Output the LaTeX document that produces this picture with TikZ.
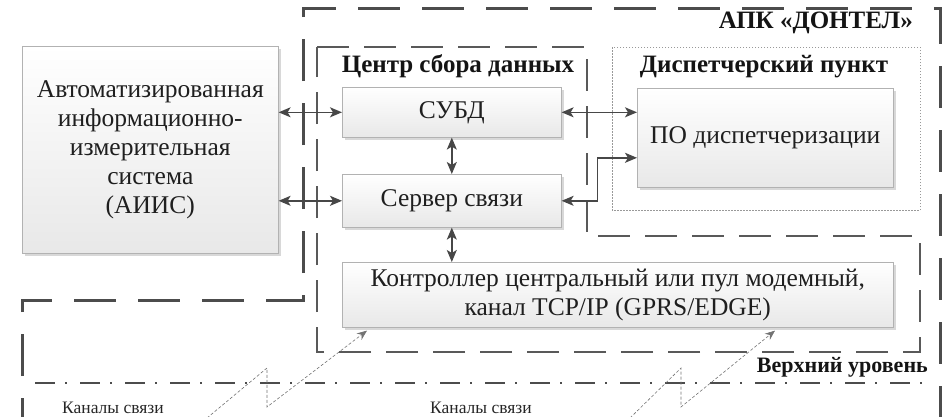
\documentclass[tikz,border=0pt]{standalone}
\usepackage{fontspec}
\setmainfont{Liberation Serif}
\usetikzlibrary{shadows,arrows.meta}
\begin{document}
\begin{tikzpicture}[x=1pt,y=-1pt,
  box/.style={draw=black!30, line width=0.6pt, top color=white, bottom color=black!9,
    drop shadow={shadow xshift=2.5pt, shadow yshift=-2.5pt, fill=black!30, opacity=0.5},
    inner sep=0pt, align=center, anchor=north west,
    font=\fontsize{25.5}{29}\selectfont, text=black!88},
  arr/.style={{Stealth[length=12pt,width=10pt,inset=3pt]}-{Stealth[length=12pt,width=10pt,inset=3pt]}, line width=1.5pt, draw=black!72},
  outerdash/.style={line width=3pt, draw=black!70, dash pattern=on 42pt off 22pt},
  innerdash/.style={line width=2pt, draw=black!65, dash pattern=on 32pt off 15pt},
  dotbox/.style={line width=0.6pt, draw=black!40, dash pattern=on 1.5pt off 1.5pt},
  dashdot/.style={line width=2pt, draw=black!70, dash pattern=on 20pt off 10pt on 2pt off 13pt},
  zig/.style={line width=0.6pt, draw=black!55, dash pattern=on 3pt off 2pt, -{Stealth[length=10pt,width=8pt]}},
  lbl/.style={font=\bfseries\fontsize{25}{28}\selectfont, text=black!92, inner sep=0pt},
  small/.style={font=\fontsize{17.5}{20}\selectfont, text=black!85, inner sep=0pt}]
\useasboundingbox (0,0) rectangle (952,416);
\clip (0,0) rectangle (952,416);

% frames
\draw[outerdash] (22,440) -- (22,300) -- (303,300) -- (303,8) -- (940,8) -- (940,440);
\draw[innerdash] (317,47) -- (587,47) -- (587,236) -- (920,236) -- (920,352) -- (317,352) -- cycle;
\draw[dotbox] (612,47) rectangle (920,210);
\draw[dashdot] (35,383) -- (925,383);

% labels
\node[lbl, anchor=base east] (apk) at (913,28) {АПК «ДОНТЕЛ»};
\node[lbl, anchor=base] (csd) at (458,72) {Центр сбора данных};
\node[lbl, anchor=base] (dp) at (764,72) {Диспетчерский пункт};
\node[lbl, font=\bfseries\fontsize{22}{26}\selectfont, anchor=base east] (vu) at (928,372) {Верхний уровень};

% boxes
\node[box, minimum width=256pt, minimum height=207pt] (aiis) at (22,46)
  {Автоматизированная\\информационно-\\измерительная\\система\\(АИИС)};
\node[box, minimum width=219pt, minimum height=50pt] (subd) at (342,87) {СУБД};
\node[box, minimum width=219pt, minimum height=53pt] (server) at (342,174) {Сервер связи};
\node[box, minimum width=551pt, minimum height=65pt] (ctrl) at (342,262)
  {Контроллер центральный или пул модемный,\\канал TCP/IP (GPRS/EDGE)};
\node[box, minimum width=256pt, minimum height=99pt] (po) at (637,88) {ПО диспетчеризации};

% connectors
\draw[arr] (aiis.east |- subd.west) -- (subd.west);
\draw[arr] (aiis.east |- server.west) -- (server.west);
\draw[arr] (subd.east) -- (po.west |- subd.east);
\draw[arr] (subd.south) -- (server.north);
\draw[arr] (server.south) -- (server.south |- ctrl.north);
\draw[arr] (server.east) -- ++(36,0) |- ([yshift=-20pt]po.west);

% radio channels
\coordinate (a1) at (207,418);
\coordinate (a2) at (267,368);
\coordinate (a3) at (267,407);
\coordinate (b1) at (630,418);
\coordinate (b2) at (681,368);
\coordinate (b3) at (681,407);
\draw[zig] (a1) -- (a2) -- (a3) -- ([xshift=25pt,yshift=-3pt]ctrl.south west);
\draw[zig] (b1) -- (b2) -- (b3) -- ([xshift=433pt,yshift=-3pt]ctrl.south west);

\node[small, anchor=base west] (k1) at (62,413) {Каналы связи};
\node[small, anchor=base west] (k2) at (430,413) {Каналы связи};
\end{tikzpicture}
\end{document}
